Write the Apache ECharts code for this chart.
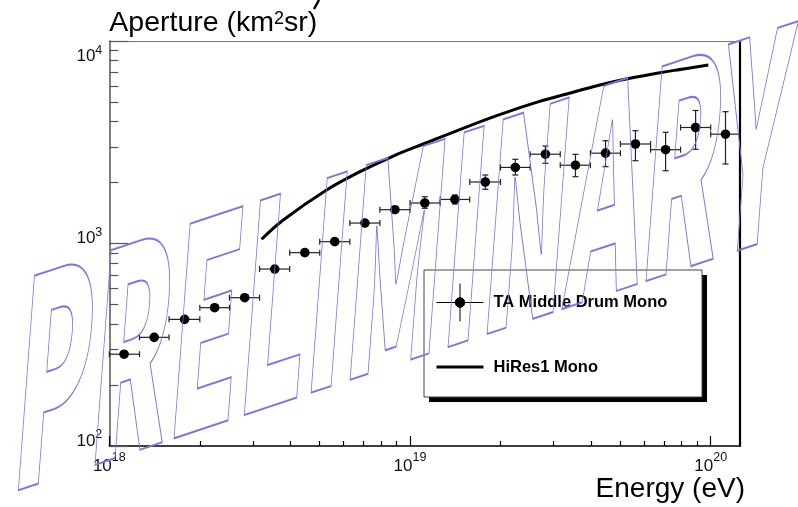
<!DOCTYPE html>
<html><head><meta charset="utf-8">
<script src="https://cdn.jsdelivr.net/npm/echarts@6/dist/echarts.min.js"></script>
<style>html,body{margin:0;padding:0;background:#fff}#c{width:798px;height:507px}</style>
</head><body><div id="c"></div>
<script>
// ---- data ----
const energy   = [1.12e18,1.41e18,1.78e18,2.24e18,2.82e18,3.55e18,4.47e18,5.62e18,7.08e18,8.91e18,
                  1.12e19,1.41e19,1.78e19,2.24e19,2.82e19,3.55e19,4.47e19,5.62e19,7.08e19,8.91e19,1.12e20];
const energyLo = [1.00e18,1.26e18,1.58e18,2.00e18,2.51e18,3.16e18,3.98e18,5.01e18,6.31e18,7.94e18,
                  1.00e19,1.26e19,1.58e19,2.00e19,2.51e19,3.16e19,3.98e19,5.01e19,6.31e19,7.94e19,1.00e20];
const energyHi = [1.26e18,1.58e18,2.00e18,2.51e18,3.16e18,3.98e18,5.01e18,6.31e18,7.94e18,1.00e19,
                  1.26e19,1.58e19,2.00e19,2.51e19,3.16e19,3.98e19,5.01e19,6.31e19,7.94e19,1.00e20,1.26e20];
const taAperture = [284,344,422,482,540,748,901,1021,1262,1469,1585,1650,2012,2375,2761,2436,2793,3100,2906,3740,3466];
const taApLo     = [277,336,412,470,527,730,879,996,1231,1425,1492,1567,1852,2179,2489,2138,2395,2564,2288,2919,2470];
const taApHi     = [291,352,433,494,553,767,924,1047,1294,1514,1702,1736,2179,2605,3030,2757,3219,3606,3541,4538,4477];

const hiresEnergy   = [3.21e18,3.79e18,5.28e18,6.82e18,8.80e18,1.107e19,1.43e19,1.943e19,2.57e19,3.32e19,4.28e19,5.39e19,6.78e19,8.11e19,9.82e19];
const hiresAperture = [1049,1306,1837,2263,2704,3100,3600,4277,4923,5474,6064,6543,6973,7273,7612];

const xMajorTicks = [1e18,1e19,1e20];
const xMinorTicks = [2e18,3e18,4e18,5e18,6e18,7e18,8e18,9e18,2e19,3e19,4e19,5e19,6e19,7e19,8e19,9e19];
const yMajorTicks = [100,1000,10000];
const yMinorTicks = [200,300,400,500,600,700,800,900,2000,3000,4000,5000,6000,7000,8000,9000];
const xMin = 1e18, xMax = 1.2516e20, yMin = 100, yMax = 10000;

const seriesNames = ['TA Middle Drum Mono','HiRes1 Mono'];
const FONT = "'Liberation Sans', Arial, Helvetica, sans-serif";

// ---- build ----
const taData = energy.map((e,i)=>[e, taAperture[i], energyLo[i], energyHi[i], taApLo[i], taApHi[i]]);
const hiresData = hiresEnergy.map((e,i)=>[e, hiresAperture[i]]);

const chart = echarts.init(document.getElementById('c'), null, {renderer:'canvas'});

function expOf(v){ return Math.round(Math.log10(v)); }

const LEG = {x:424, y:270, w:278, h:127};

const option = {
  animation:false,
  backgroundColor:'#fff',
  grid:{left:109.3, top:41, right:58, bottom:61, containLabel:false, outerBoundsMode:'none'},
  xAxis:[
    {type:'log', min:xMin, max:xMax, position:'bottom',
     name:'Energy (eV)', nameLocation:'end', nameGap:5, nameMoveOverlap:false,
     nameTextStyle:{fontFamily:FONT, fontSize:28, color:'#000', align:'right', verticalAlign:'top', padding:[29,0,0,0]},
     axisLine:{show:true, lineStyle:{color:'#000', width:1.5}},
     axisTick:{show:true, inside:true, length:10, customValues:xMajorTicks, lineStyle:{color:'#000', width:1.2}},
     axisLabel:{show:true, customValues:xMajorTicks, margin:12, color:'#111',
       formatter:(v)=>'{b|10}{s|'+expOf(v)+'}',
       rich:{b:{fontFamily:FONT, fontSize:17, lineHeight:17, verticalAlign:'middle', color:'#111'},
             s:{fontFamily:FONT, fontSize:12.5, lineHeight:12, verticalAlign:'middle', padding:[0,0,18,0], color:'#111'}}},
     splitLine:{show:false}, minorTick:{show:false}},
    {type:'log', min:xMin, max:xMax, position:'bottom',
     axisLine:{show:false},
     axisTick:{show:true, inside:true, length:5, customValues:xMinorTicks, lineStyle:{color:'#000', width:1.2}},
     axisLabel:{show:false}, splitLine:{show:false}},
    {type:'log', min:xMin, max:xMax, position:'top',
     axisLine:{show:true, lineStyle:{color:'#777', width:1.2}},
     axisTick:{show:false}, axisLabel:{show:false}, splitLine:{show:false}}
  ],
  yAxis:[
    {type:'log', min:yMin, max:yMax, position:'left',
     name:'{a|Aperture (km}{s|2}{a|sr)}', nameLocation:'end', nameGap:3.7, nameMoveOverlap:false,
     nameTextStyle:{align:'left', verticalAlign:'bottom',
       rich:{a:{fontFamily:FONT, fontSize:28.5, lineHeight:28, verticalAlign:'middle', color:'#000'},
             s:{fontFamily:FONT, fontSize:18, lineHeight:18, verticalAlign:'middle', padding:[0,0,8,0], color:'#000'}}},
     axisLine:{show:true, lineStyle:{color:'#555', width:1.5}},
     axisTick:{show:true, inside:true, length:19, customValues:yMajorTicks, lineStyle:{color:'#555', width:1.2}},
     axisLabel:{show:true, customValues:yMajorTicks, margin:7, color:'#111',
       formatter:(v)=> expOf(v)===4 ? '{bt|10}{st|4}' : '{b|10}{s|'+expOf(v)+'}',
       rich:{b:{fontFamily:FONT, fontSize:17, lineHeight:19, verticalAlign:'middle', padding:[0,0,10,0], color:'#111'},
             s:{fontFamily:FONT, fontSize:12.5, lineHeight:13, verticalAlign:'middle', padding:[0,0,22,0], color:'#111'},
             bt:{fontFamily:FONT, fontSize:17, lineHeight:19, verticalAlign:'middle', padding:[30,0,0,0], color:'#111'},
             st:{fontFamily:FONT, fontSize:12.5, lineHeight:13, verticalAlign:'middle', padding:[20,0,0,0], color:'#111'}}},
     splitLine:{show:false}},
    {type:'log', min:yMin, max:yMax, position:'left',
     axisLine:{show:false},
     axisTick:{show:true, inside:true, length:9, customValues:yMinorTicks, lineStyle:{color:'#555', width:1.2}},
     axisLabel:{show:false}, splitLine:{show:false}},
    {type:'log', min:yMin, max:yMax, position:'right',
     axisLine:{show:true, lineStyle:{color:'#000', width:2.2}},
     axisTick:{show:false}, axisLabel:{show:false}, splitLine:{show:false}}
  ],
  legend:{
    orient:'vertical', left:LEG.x, top:LEG.y, z:5,
    padding:[13,12,12,12], itemGap:26, itemWidth:47, itemHeight:38,
    backgroundColor:'transparent', borderWidth:0,
    textStyle:{fontFamily:FONT, fontWeight:'bold', fontSize:16.5, color:'#000', padding:[0,0,0,5]},
    selectedMode:false,
    data:[
      {name:seriesNames[0],
       icon:'path://M0,19 L47,19 M23.5,0 L23.5,38 M28.3,19 A4.8,4.8 0 1 1 18.7,19 A4.8,4.8 0 1 1 28.3,19 Z',
       itemStyle:{color:'#000', borderColor:'#000', borderWidth:1}},
      {name:seriesNames[1],
       icon:'path://M0,0 L0,0 M47,38 L47,38 M0,17.5 L47,17.5 L47,20.5 L0,20.5 Z',
       itemStyle:{color:'#000', borderWidth:0}}
    ]
  },
  series:[
    {name:seriesNames[1], type:'line', xAxisIndex:0, yAxisIndex:0, data:hiresData,
     smooth:0.4, symbol:'none', lineStyle:{color:'#000', width:3}, itemStyle:{color:'#000'}, z:2},
    {name:seriesNames[0], type:'custom', xAxisIndex:0, yAxisIndex:0, data:taData,
     itemStyle:{color:'#000'}, z:2,
     encode:{x:0, y:1},
     renderItem:function(params, api){
       const x = api.value(0), y = api.value(1);
       const c = api.coord([x,y]);
       const l = api.coord([api.value(2), y]);
       const h = api.coord([api.value(3), y]);
       const b = api.coord([x, api.value(4)]);
       const t = api.coord([x, api.value(5)]);
       const cs = params.coordSys;
       const x0 = cs.x, x1 = cs.x + cs.width;
       const lx = Math.max(l[0], x0), hx = Math.min(h[0], x1);
       const st = {stroke:'#222', lineWidth:1.2};
       const cap = 3;
       const ch = [
         {type:'line', shape:{x1:lx, y1:c[1], x2:hx, y2:c[1]}, style:st},
         {type:'line', shape:{x1:c[0], y1:b[1], x2:c[0], y2:t[1]}, style:st},
         {type:'line', shape:{x1:c[0]-cap, y1:b[1], x2:c[0]+cap, y2:b[1]}, style:st},
         {type:'line', shape:{x1:c[0]-cap, y1:t[1], x2:c[0]+cap, y2:t[1]}, style:st}
       ];
       if (l[0] >= x0) ch.push({type:'line', shape:{x1:l[0], y1:c[1]-cap, x2:l[0], y2:c[1]+cap}, style:st});
       if (h[0] <= x1) ch.push({type:'line', shape:{x1:h[0], y1:c[1]-cap, x2:h[0], y2:c[1]+cap}, style:st});
       ch.push({type:'circle', shape:{cx:c[0], cy:c[1], r:4.8}, style:{fill:'#000'}});
       return {type:'group', children:ch};
     }}
  ],
  graphic:[
    // legend frame with solid drop shadow
    {type:'rect', z:3, silent:true, shape:{x:LEG.x+5, y:LEG.y+5, width:LEG.w, height:LEG.h}, style:{fill:'#000'}},
    {type:'rect', z:3, silent:true, shape:{x:LEG.x, y:LEG.y, width:LEG.w, height:LEG.h}, style:{fill:'#fff', stroke:'#444', lineWidth:1}},
    // watermark
    {type:'text', z:100, silent:true,
     x:17, y:384, scaleX:0.62, scaleY:1.6, skewX:-0.075, skewY:0.3217,
     style:{text:'PRELIMINARY', x:0, y:0, font:'900 180px "Noto Sans CJK SC", ' + FONT,
            fill:'none', stroke:'#7676ea', lineWidth:1.3,
            align:'left', verticalAlign:'middle', textAlign:'left', textVerticalAlign:'middle'}},
    {type:'line', z:100, silent:true, shape:{x1:319, y1:0, x2:314, y2:9}, style:{stroke:'#000', lineWidth:2.5}}
  ]
};
chart.setOption(option);
</script>
</body></html>
